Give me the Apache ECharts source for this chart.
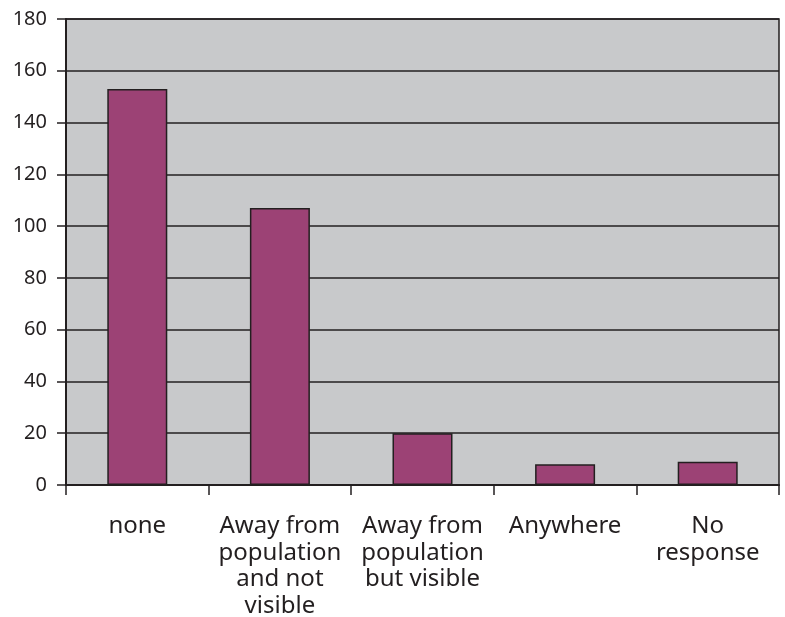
<!DOCTYPE html>
<html>
<head>
<meta charset="utf-8">
<script src="https://cdn.jsdelivr.net/npm/echarts@6/dist/echarts.min.js"></script>
<style>html,body{margin:0;padding:0;background:#fff}#c{width:785px;height:617px}</style>
</head>
<body>
<div id="c"></div>
<script>
const categories = ['none', 'Away from\npopulation\nand not\nvisible', 'Away from\npopulation\nbut visible', 'Anywhere', 'No\nresponse'];
const values = [153, 107, 20, 8, 9];
const yTicks = { min: 0, max: 180, interval: 20 };

const chart = echarts.init(document.getElementById('c'), null, { renderer: 'canvas' });
chart.setOption({
  animation: false,
  grid: {
    left: 66, right: 6, top: 19, bottom: 132,
    outerBoundsMode: 'none', containLabel: false,
    show: true, backgroundColor: '#c8c9cb', borderColor: '#231f20', borderWidth: 1.5
  },
  xAxis: {
    type: 'category',
    data: categories,
    axisLine: { lineStyle: { color: '#231f20', width: 2 } },
    axisTick: { show: true, length: 10, lineStyle: { color: '#231f20', width: 1.5 } },
    axisLabel: {
      color: '#231f20', fontSize: 24, fontFamily: 'Noto Sans', lineHeight: 26.5, margin: 28,
      interval: 0, align: 'center', verticalAlign: 'top'
    }
  },
  yAxis: {
    type: 'value',
    min: yTicks.min, max: yTicks.max, interval: yTicks.interval,
    axisLine: { show: true, lineStyle: { color: '#231f20', width: 2 } },
    axisTick: { show: true, length: 9, lineStyle: { color: '#231f20', width: 1.5 } },
    splitLine: { show: true, lineStyle: { color: '#231f20', width: 1.5 } },
    axisLabel: { color: '#231f20', fontSize: 20, fontFamily: 'Noto Sans', margin: 19 }
  },
  series: [{
    type: 'bar',
    data: values,
    barWidth: 60,
    itemStyle: { color: '#9c4275', borderColor: '#231f20', borderWidth: 1.5 }
  }]
});
</script>
</body>
</html>
